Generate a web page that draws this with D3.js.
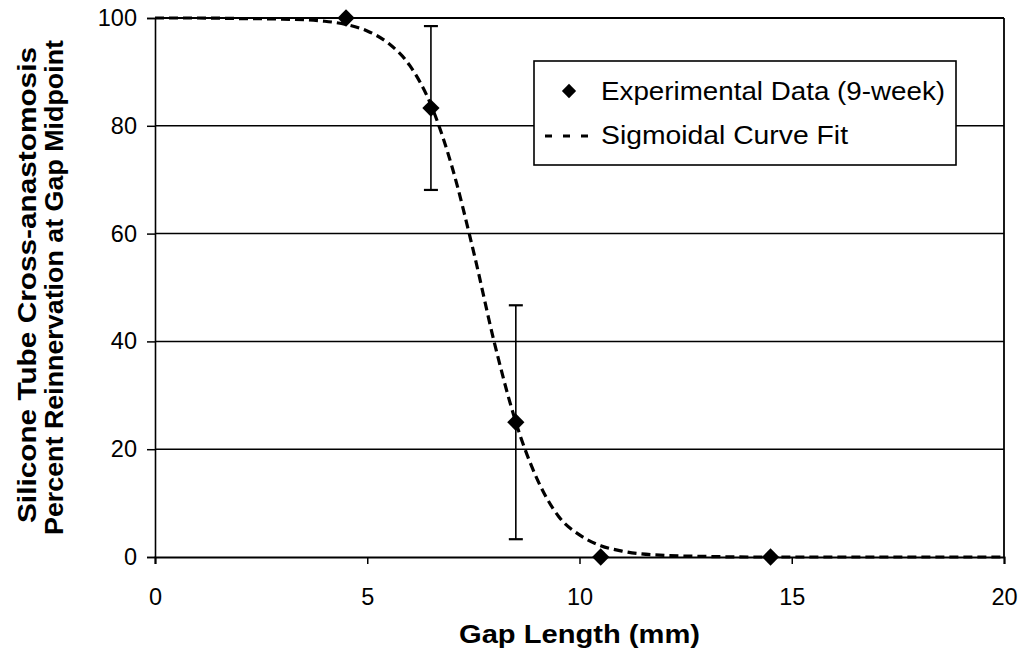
<!DOCTYPE html>
<html>
<head>
<meta charset="utf-8">
<script src="https://cdn.jsdelivr.net/npm/d3@7"></script>
<style>
  html, body { margin: 0; padding: 0; background: #fff; }
  svg { display: block; font-family: "Liberation Sans", Arial, sans-serif; }
</style>
</head>
<body>
<svg id="chart" width="1021" height="651"></svg>
<script>
// Experimental reinnervation measurements (9-week)
const gapLength = [4.5, 6.5, 8.5, 10.5, 14.5];
const reinnervation = [100, 83.3, 25, 0, 0];
const errorHalf = [0, 15.2, 21.7, 0, 0];

// Sigmoidal curve fit, sampled along the gap length axis
const fitX = [0, 1, 2, 3, 4, 4.5, 5, 5.5, 6, 6.5, 7, 7.5, 8, 8.5, 9, 9.5, 10, 10.5, 11, 12, 13, 14, 16, 18, 20];
const fitY = [100, 100, 99.9, 99.8, 99.4, 98.8, 97.6, 95.3, 91.2, 83.9, 72.3, 56.8, 39.6, 25, 14.5, 7.6, 4.1, 2.1, 1.1, 0.3, 0.1, 0, 0, 0, 0];

// Axis ticks
const xTicks = [0, 5, 10, 15, 20];
const yTicks = [0, 20, 40, 60, 80, 100];

const legendLabels = ["Experimental Data (9-week)", "Sigmoidal Curve Fit"];
const xTitle = "Gap Length (mm)";
const yTitle = ["Silicone Tube Cross-anastomosis", "Percent Reinnervation at Gap Midpoint"];

const svg = d3.select("#chart");
const plot = { left: 155, right: 1004, top: 18, bottom: 557 };

const x = d3.scaleLinear().domain([0, 20]).range([plot.left, plot.right]);
const y = d3.scaleLinear().domain([0, 100]).range([plot.bottom, plot.top]);

// Horizontal gridlines
svg.append("g")
  .selectAll("line")
  .data(yTicks.filter(d => d > 0))
  .join("line")
  .attr("x1", plot.left).attr("x2", plot.right)
  .attr("y1", d => y(d)).attr("y2", d => y(d))
  .attr("stroke", "#000").attr("stroke-width", d => d === 100 ? 2 : 1.5);

// Right border of plot area
svg.append("line")
  .attr("x1", plot.right).attr("x2", plot.right)
  .attr("y1", plot.top).attr("y2", plot.bottom)
  .attr("stroke", "#000").attr("stroke-width", 1.8);

// Y axis
const yAxis = svg.append("g")
  .attr("transform", `translate(${plot.left},0)`)
  .call(d3.axisLeft(y).tickValues(yTicks).tickSize(8).tickPadding(10).tickFormat(d3.format("d")));
yAxis.select(".domain").attr("stroke-width", 1.6);
yAxis.selectAll(".tick line").attr("stroke-width", 1.5);
yAxis.selectAll("text").attr("font-size", 23.5).attr("fill", "#000");

// X axis
const xAxis = svg.append("g")
  .attr("transform", `translate(0,${plot.bottom})`)
  .call(d3.axisBottom(x).tickValues(xTicks).tickSize(7).tickPadding(24).tickFormat(d3.format("d")));
xAxis.select(".domain").attr("stroke-width", 2);
xAxis.selectAll(".tick line").attr("stroke-width", 1.5);
xAxis.selectAll("text").attr("font-size", 23.5).attr("fill", "#000");

// Fitted curve
const fitLine = d3.line()
  .x((d, i) => x(fitX[i]))
  .y(d => y(d))
  .curve(d3.curveMonotoneX);
svg.append("path")
  .datum(fitY)
  .attr("d", fitLine)
  .attr("fill", "none")
  .attr("stroke", "#000")
  .attr("stroke-width", 3.2)
  .attr("stroke-dasharray", "9,5");

// Error bars
const capW = 7;
const eb = svg.append("g").attr("stroke", "#000").attr("stroke-width", 1.6);
gapLength.forEach((g, i) => {
  if (errorHalf[i] <= 0) return;
  const cx = x(g), top = y(reinnervation[i] + errorHalf[i]), bot = y(reinnervation[i] - errorHalf[i]);
  eb.append("line").attr("x1", cx).attr("x2", cx).attr("y1", top).attr("y2", bot);
  eb.append("line").attr("x1", cx - capW).attr("x2", cx + capW).attr("y1", top).attr("y2", top).attr("stroke-width", 2.2);
  eb.append("line").attr("x1", cx - capW).attr("x2", cx + capW).attr("y1", bot).attr("y2", bot).attr("stroke-width", 2.2);
});

// Diamond markers
const diamond = d3.symbol().type(d3.symbolDiamond2).size(190);
svg.append("g")
  .selectAll("path")
  .data(reinnervation)
  .join("path")
  .attr("d", diamond)
  .attr("transform", (d, i) => `translate(${x(gapLength[i])},${y(d)})`)
  .attr("fill", "#000");

// Legend
const lg = svg.append("g");
lg.append("rect")
  .attr("x", 534).attr("y", 61).attr("width", 422).attr("height", 104)
  .attr("fill", "#fff").attr("stroke", "#000").attr("stroke-width", 1.6);
lg.append("path")
  .attr("d", d3.symbol().type(d3.symbolDiamond2).size(130)())
  .attr("transform", "translate(569,91)")
  .attr("fill", "#000");
lg.append("line")
  .attr("x1", 545).attr("x2", 591).attr("y1", 136).attr("y2", 136)
  .attr("stroke", "#000").attr("stroke-width", 3).attr("stroke-dasharray", "7,11");
const legendWidths = [344, 247];
lg.selectAll("text")
  .data(legendLabels)
  .join("text")
  .attr("x", 601)
  .attr("y", (d, i) => 100 + i * 44)
  .attr("font-size", 26)
  .attr("textLength", (d, i) => legendWidths[i])
  .attr("lengthAdjust", "spacingAndGlyphs")
  .attr("fill", "#000")
  .text(d => d);

// Axis titles
svg.append("text")
  .attr("x", 459)
  .attr("y", 643)
  .attr("font-size", 26)
  .attr("font-weight", "bold")
  .attr("textLength", 241)
  .attr("lengthAdjust", "spacingAndGlyphs")
  .text(xTitle);

const yTitleWidths = [476, 495];
const yTitleCenters = [285, 287.5];
const yTitleBaselines = [36, 63];
yTitle.forEach((t, i) => {
  svg.append("text")
    .attr("transform", `translate(${yTitleBaselines[i]},${yTitleCenters[i] + yTitleWidths[i] / 2}) rotate(-90)`)
    .attr("x", 0).attr("y", 0)
    .attr("font-size", 26)
    .attr("font-weight", "bold")
    .attr("textLength", yTitleWidths[i])
    .attr("lengthAdjust", "spacingAndGlyphs")
    .text(t);
});
</script>
</body>
</html>
